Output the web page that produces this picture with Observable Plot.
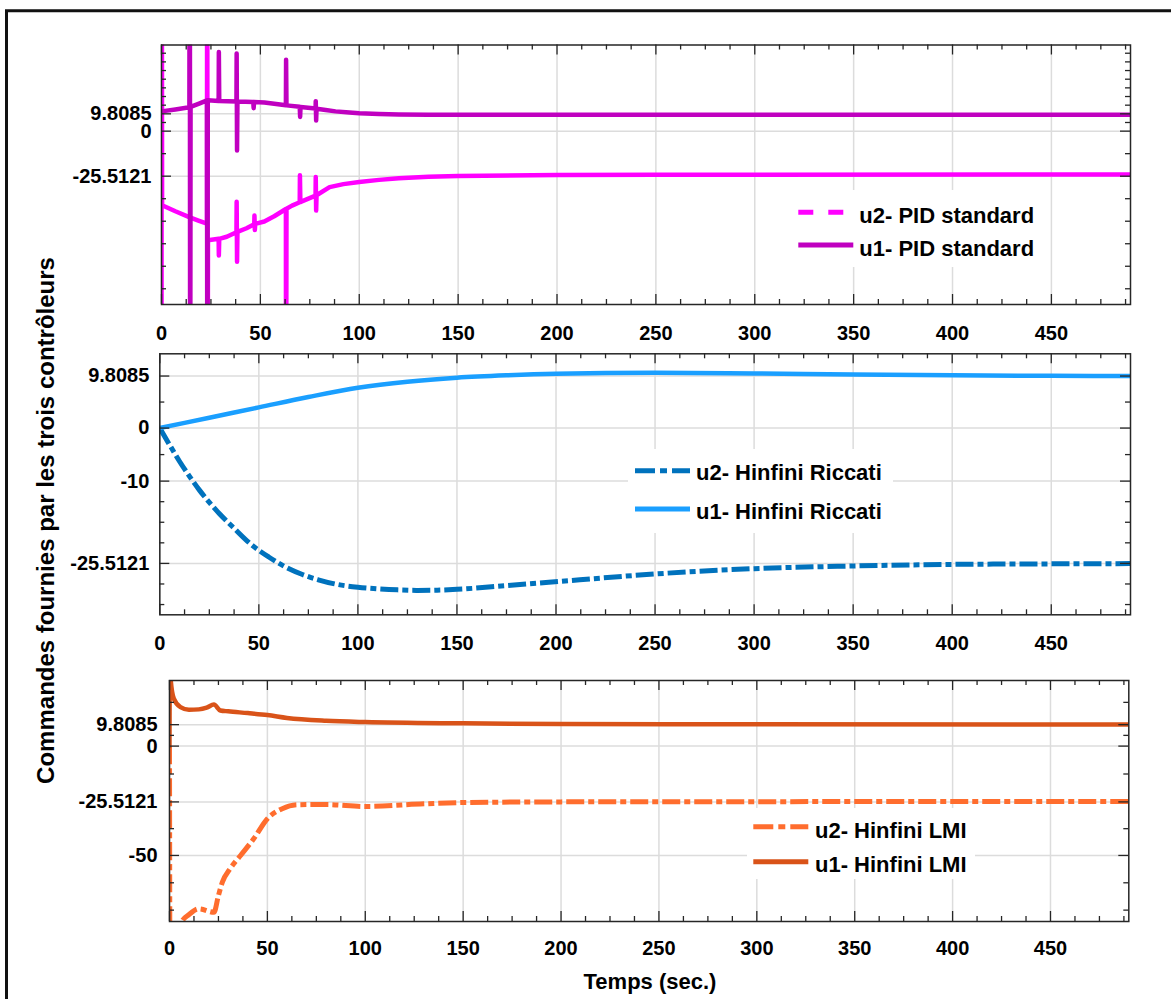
<!DOCTYPE html>
<html>
<head>
<meta charset="utf-8">
<script src="https://cdn.jsdelivr.net/npm/d3@7"></script>
<script src="https://cdn.jsdelivr.net/npm/@observablehq/plot@0.6"></script>
<style>
  body { margin: 0; background: #fff; }
  #root { position: relative; width: 1171px; height: 999px; overflow: hidden; background: #fff; }
  #root > svg { position: absolute; left: 0; top: 0; }
</style>
</head>
<body>
<div id="root"></div>
<script>
// ---------------- DATA ----------------
const xTickValues = [0, 50, 100, 150, 200, 250, 300, 350, 400, 450];
const xDomain = [0, 490];

// Panel 1 : PID standard
const pidYTicks = [-25.5121, 0, 9.8085];
const pidYMinor = [4.904, 14.713, 19.617, 24.521, 29.426, 34.33, 39.234, 44.138, -12.756, -38.268, -51.024, -63.779, -76.535, -89.291];
const pidYDomain = [-98.2, 48.8];
const pidU1T = [0, 7, 14.1, 14.3, 14.5, 14.7, 19, 23.0, 23.2, 23.4, 28.9, 29.0, 29.2, 37.9, 38.0, 38.2, 38.4, 46.4, 46.6, 46.8, 52, 57, 62.9, 63.0, 63.2, 69.9, 70.1, 70.3, 77.9, 78.0, 78.2, 78.4, 83, 88, 95, 100, 110, 120, 135, 200, 490];
const pidU1V = [11.2, 12.3, 13.5, 200, -200, 13.7, 15.6, 17.4, -200, 17.5, 17.1, 44.8, 17.1, 16.8, 44, -11, 16.8, 16.5, 13, 16.5, 16.2, 15.5, 14.7, 40.5, 14.6, 13.8, 8, 13.7, 12.8, 17, 6, 12.7, 12.0, 11.2, 10.5, 10.1, 9.7, 9.5, 9.35, 9.3, 9.3];
const pidU2T = [0, 0.1, 0.3, 7, 14, 19, 23.0, 23.1, 23.3, 23.5, 28.9, 29.0, 29.2, 33, 37.9, 38.0, 38.2, 38.4, 43, 46.9, 47.0, 47.2, 47.4, 52, 57, 62.9, 63.0, 63.2, 66, 69.9, 70.0, 70.2, 70.4, 74, 77.9, 78.0, 78.2, 78.4, 85, 92, 100, 110, 120, 135, 150, 200, 250, 490];
const pidU2V = [-200, 200, -42.0, -45.4, -48.7, -50.8, -52.4, 200, -200, -61.8, -61.0, -70.4, -61.0, -59.8, -57.3, -40, -74, -57.1, -55, -52.8, -47.8, -56, -52.5, -51.2, -48.2, -44.1, -200, -44, -42.2, -40.3, -25, -39, -40.1, -38.4, -36.5, -26, -45, -36.3, -31.7, -30.0, -28.8, -27.6, -26.7, -25.9, -25.4, -24.9, -24.7, -24.6];

// Panel 2 : Hinfini Riccati
const ricYTicks = [-25.5121, -10, 0, 9.8085];
const ricYMinor = [4.904, -5, -13.878, -17.756, -21.634, -29.39, -33.268];
const ricYDomain = [-35.2, 14.0];
const ricU1T = [0, 25, 50, 75, 100, 125, 150, 175, 200, 250, 300, 350, 400, 450, 490];
const ricU1V = [0, 1.95, 3.9, 5.85, 7.6, 8.75, 9.5, 9.95, 10.25, 10.45, 10.3, 10.1, 9.95, 9.85, 9.8];
const ricU2T = [0, 5, 10, 15, 20, 25, 30, 37, 46, 55, 63, 72, 80, 90, 100, 110, 120, 130, 140, 150, 175, 212, 250, 300, 350, 400, 450, 490];
const ricU2V = [0, -3.2, -6.3, -9.1, -11.7, -14.0, -16.1, -18.7, -21.9, -24.3, -26.1, -27.6, -28.6, -29.5, -30.0, -30.3, -30.5, -30.6, -30.55, -30.4, -29.7, -28.6, -27.5, -26.5, -26.0, -25.7, -25.6, -25.55];

// Panel 3 : Hinfini LMI
const lmiYTicks = [-50, -25.5121, 0, 9.8085];
const lmiYMinor = [20, 4.904, -12.756, -37.756, -62.5, -75];
const lmiYDomain = [-80.2, 30];
const lmiU1T = [0, 0.2, 0.6, 2.2, 5.6, 9.9, 15, 19, 22.7, 26, 30, 40, 50, 60, 80, 100, 150, 200, 300, 490];
const lmiU1V = [0, 40, 30.5, 21.7, 17.8, 16.6, 16.8, 17.6, 19, 16.3, 15.9, 15.1, 14.2, 12.9, 11.6, 11.0, 10.4, 10.1, 9.95, 9.9];
const lmiU2T = [0, 0.3, 3, 6.5, 10, 15, 22.7, 25, 27, 31, 36.3, 43, 50, 57.6, 65.3, 80, 100, 130, 150, 200, 300, 490];
const lmiU2V = [0, -120, -95, -80, -77, -74.4, -76, -68.3, -62.2, -56, -50, -42.4, -33.2, -28.6, -26.8, -26.7, -27.6, -26.4, -25.8, -25.5, -25.4, -25.3];

const pidLabels = ["u2- PID standard", "u1- PID standard"];
const ricLabels = ["u2- Hinfini Riccati", "u1- Hinfini Riccati"];
const lmiLabels = ["u2- Hinfini LMI", "u1- Hinfini LMI"];
const yTitle = "Commandes fournies par les trois contrôleurs";
const xTitle = "Temps (sec.)";

// ---------------- STYLE ----------------
const C = {
  pidU1: "#c000c0", pidU2: "#ff00ff",
  ricU1: "#1a9fff", ricU2: "#0072bd",
  lmiU1: "#d95319", lmiU2: "#ff6d2e"
};
const GRID = "#dcdcdc", AX = "#262626";
const FONT = "'Liberation Sans', Arial, Helvetica, sans-serif";
const W = 1171, H = 999;
const xMinor = d3.range(12.5, 490, 12.5).filter(d => d % 50 !== 0);
const DASHDOT = "18,4,6,4";

const root = document.getElementById("root");

function panel(cfg) {
  const pw = W - cfg.ml - cfg.mr, ph = H - cfg.mt - cfg.mb;
  const tk = {stroke: AX, strokeWidth: 1.3};
  const marks = [
    Plot.gridX(xTickValues, {x: d => d, stroke: GRID, strokeOpacity: 1, strokeWidth: 1.5}),
    Plot.gridY(cfg.yTicks, {y: d => d, stroke: GRID, strokeOpacity: 1, strokeWidth: 1.5}),
    ...cfg.series.map(s => Plot.line(s.t.map((t, i) => ({t, v: s.v[i]})), {
      x: "t", y: "v", stroke: s.color, strokeWidth: s.width, curve: s.curve || "linear",
      strokeDasharray: s.dash, strokeLinecap: s.dash ? "butt" : "round",
      strokeLinejoin: "round", clip: true
    })),
    Plot.frame({stroke: AX, strokeWidth: 1.5}),
    Plot.tickX(xTickValues, {x: d => d, insetTop: ph - 10, ...tk}),
    Plot.tickX(xTickValues, {x: d => d, insetBottom: ph - 10, ...tk}),
    Plot.tickX(xMinor, {x: d => d, insetTop: ph - 5, ...tk}),
    Plot.tickX(xMinor, {x: d => d, insetBottom: ph - 5, ...tk}),
    Plot.tickY(cfg.yTicks, {y: d => d, insetRight: pw - 10, ...tk}),
    Plot.tickY(cfg.yTicks, {y: d => d, insetLeft: pw - 10, ...tk}),
    Plot.tickY(cfg.yMinor, {y: d => d, insetRight: pw - 5, ...tk}),
    Plot.tickY(cfg.yMinor, {y: d => d, insetLeft: pw - 5, ...tk}),
    Plot.axisX(xTickValues, {tickSize: 0, tickPadding: cfg.xPad, tickFormat: d => String(d), label: null, fill: "#000"}),
    Plot.axisY(cfg.yTicks, {tickSize: 0, tickPadding: cfg.yPad, tickFormat: d => String(d), label: null, fill: "#000"})
  ];
  const svg = Plot.plot({
    width: W, height: H,
    marginLeft: cfg.ml, marginRight: cfg.mr, marginTop: cfg.mt, marginBottom: cfg.mb,
    x: {domain: xDomain, label: null},
    y: {domain: cfg.yDomain, label: null},
    style: {fontFamily: FONT, fontSize: "20px", fontWeight: "bold", color: "#000", background: "transparent", overflow: "visible"},
    marks
  });
  root.appendChild(svg);
}

panel({
  ml: 161, mr: 41, mt: 44.5, mb: H - 304, xPad: 21, yPad: 10,
  yTicks: pidYTicks, yMinor: pidYMinor, yDomain: pidYDomain,
  series: [
    {t: pidU2T, v: pidU2V, color: C.pidU2, width: 4.5},
    {t: pidU1T, v: pidU1V, color: C.pidU1, width: 4.5}
  ]
});
panel({
  ml: 159.3, mr: 41, mt: 353.3, mb: H - 614.3, xPad: 20.7, yPad: 10.5,
  yTicks: ricYTicks, yMinor: ricYMinor, yDomain: ricYDomain,
  series: [
    {t: ricU2T, v: ricU2V, color: C.ricU2, width: 5, dash: DASHDOT, curve: "monotone-x"},
    {t: ricU1T, v: ricU1V, color: C.ricU1, width: 4.5, curve: "monotone-x"}
  ]
});
panel({
  ml: 169, mr: 42.7, mt: 680, mb: H - 921, xPad: 19, yPad: 12,
  yTicks: lmiYTicks, yMinor: lmiYMinor, yDomain: lmiYDomain,
  series: [
    {t: lmiU2T, v: lmiU2V, color: C.lmiU2, width: 5, dash: DASHDOT, curve: "monotone-x"},
    {t: lmiU1T, v: lmiU1V, color: C.lmiU1, width: 4.5, curve: "monotone-x"}
  ]
});

// ---------------- OVERLAY: legends, titles, border ----------------
const ov = d3.create("svg").attr("width", W).attr("height", H)
  .style("font-family", FONT).style("font-weight", "bold");

function legend(box, labels, styles) {
  const g = ov.append("g");
  g.append("rect").attr("x", box.x).attr("y", box.y).attr("width", box.w).attr("height", box.h).attr("fill", "#fff");
  labels.forEach((lab, i) => {
    const st = styles[i];
    g.append("line").attr("x1", box.sx).attr("x2", box.sx + 55)
      .attr("y1", box.rows[i]).attr("y2", box.rows[i])
      .attr("stroke", st.color).attr("stroke-width", 5)
      .attr("stroke-dasharray", st.dash || null);
    g.append("text").attr("x", box.tx).attr("y", box.base[i])
      .attr("font-size", 22).attr("fill", "#000").text(lab);
  });
}
legend({x: 785, y: 190, w: 260, h: 77, sx: 798.3, tx: 859.3, rows: [212.3, 245], base: [222.5, 255.5]},
  pidLabels, [{color: C.pidU2, dash: "15,15"}, {color: C.pidU1}]);
legend({x: 628, y: 449, w: 265, h: 84, sx: 635, tx: 696, rows: [470.7, 509], base: [480, 519]},
  ricLabels, [{color: C.ricU2, dash: "20,5,7,5"}, {color: C.ricU1}]);
legend({x: 747, y: 808, w: 228, h: 71, sx: 753.3, tx: 815, rows: [826.7, 861.7], base: [838, 871.5]},
  lmiLabels, [{color: C.lmiU2, dash: "20,5,7,5"}, {color: C.lmiU1}]);

ov.append("text").attr("transform", "translate(54,520.5) rotate(-90)")
  .attr("text-anchor", "middle").attr("font-size", 24).attr("fill", "#000").text(yTitle);
ov.append("text").attr("x", 650).attr("y", 989)
  .attr("text-anchor", "middle").attr("font-size", 22).attr("fill", "#000").text(xTitle);
ov.append("path").attr("d", "M6.5,1005 V10.7 H1180").attr("fill", "none")
  .attr("stroke", "#111").attr("stroke-width", 3);

root.appendChild(ov.node());
</script>
</body>
</html>
